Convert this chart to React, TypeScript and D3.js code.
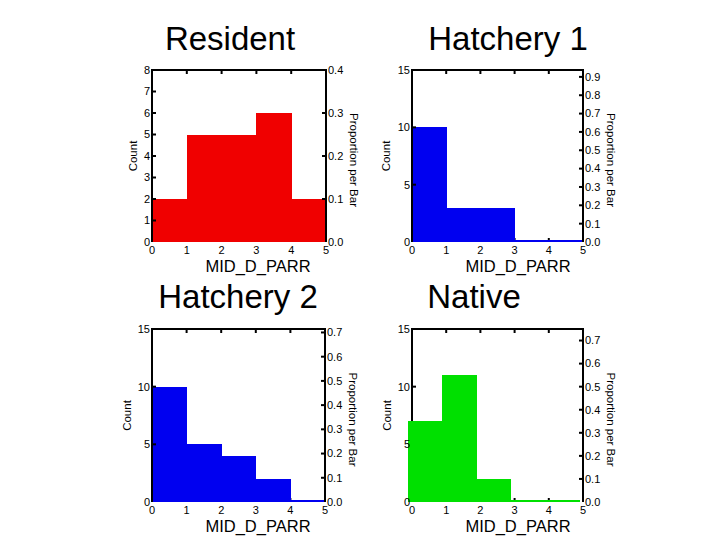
import React from 'react';
import * as d3 from 'd3';

// bin edges of MID_D_PARR
const binEdges = [0, 1, 2, 3, 4, 5];
const xTicks = [0, 1, 2, 3, 4, 5];

const residentCounts = [2, 5, 5, 6, 2];
const hatchery1Counts = [10, 3, 3, 0, 0];
const hatchery2Counts = [10, 5, 4, 2, 0];
const nativeCounts = [7, 11, 2, 0, 0];

const residentCountTicks = [0, 1, 2, 3, 4, 5, 6, 7, 8];
const hatcheryCountTicks = [0, 5, 10, 15];

const residentPropTicks = ['0.0', '0.1', '0.2', '0.3', '0.4'];
const hatchery1PropTicks = ['0.0', '0.1', '0.2', '0.3', '0.4', '0.5', '0.6', '0.7', '0.8', '0.9'];
const hatchery2PropTicks = ['0.0', '0.1', '0.2', '0.3', '0.4', '0.5', '0.6', '0.7'];
const nativePropTicks = ['0.0', '0.1', '0.2', '0.3', '0.4', '0.5', '0.6', '0.7'];

const FONT = '"Liberation Sans", Arial, sans-serif';

type PanelProps = {
  title: string;
  titleX: number;
  titleY: number;
  counts: number[];
  countTicks: number[];
  propTicks: string[];
  color: string;
  left: number;
  right: number;
  top: number;
  bottom: number;
  countGap: number;
  shift?: number;
};

function Panel(p: PanelProps) {
  const total = d3.sum(p.counts);
  const maxCount = d3.max(p.countTicks) as number;
  const x = d3.scaleLinear().domain([0, 5]).range([p.left, p.right]);
  const y = d3.scaleLinear().domain([0, maxCount]).range([p.bottom, p.top]);
  const shift = p.shift || 0;
  const tick = 4;
  const midY = (p.top + p.bottom) / 2;

  const bars = (
    <g shapeRendering="crispEdges">
      {p.counts.map((c, i) => {
        const h = Math.max(p.bottom - y(c), 2);
        return (
          <rect key={i} x={x(binEdges[i]) + shift} y={p.bottom - h}
            width={x(binEdges[i + 1]) - x(binEdges[i]) + 0.5} height={h} fill={p.color} />
        );
      })}
    </g>
  );

  const frame = (
    <g stroke="#000" strokeWidth={2} fill="none">
      <path d={`M${p.left},${p.bottom}V${p.top}H${p.right}V${p.bottom}`} />
      {xTicks.slice(1, -1).map(t => (
        <line key={'t' + t} x1={x(t)} x2={x(t)} y1={p.top} y2={p.top + tick} />
      ))}
      {p.countTicks.slice(1, -1).map(t => (
        <line key={'l' + t} x1={p.left} x2={p.left + tick} y1={y(t)} y2={y(t)} />
      ))}
      {p.propTicks.slice(1).map(t => {
        const v = +t * total;
        if (v >= maxCount) return null;
        return <line key={'r' + t} x1={p.right} x2={p.right - tick} y1={y(v)} y2={y(v)} />;
      })}
    </g>
  );

  return (
    <g fontFamily={FONT}>
      <text x={p.titleX} y={p.titleY} fontSize={33} textAnchor="middle" fill="#000">{p.title}</text>
      <g stroke="#000" strokeWidth={2}>
        {xTicks.slice(1, -1).map(t => (
          <line key={'b' + t} x1={x(t)} x2={x(t)} y1={p.bottom} y2={p.bottom - tick} />
        ))}
      </g>
      {shift ? frame : null}
      {bars}
      {shift ? null : frame}
      <g fontSize={11} fill="#000">
        {xTicks.map(t => (
          <text key={'bx' + t} x={x(t)} y={p.bottom + 11.5} textAnchor="middle">{t}</text>
        ))}
        {p.countTicks.map(t => (
          <text key={'ly' + t} x={p.left - 2} y={y(t)} dy="0.35em" textAnchor="end">{t}</text>
        ))}
        {p.propTicks.map(t => {
          const v = +t * total;
          if (v > maxCount) return null;
          return <text key={'ry' + t} x={p.right + 2} y={y(v)} dy="0.35em">{t}</text>;
        })}
        <text transform={`translate(${p.left - p.countGap},${midY}) rotate(-90)`} fontSize={11.5}
          textAnchor="middle" dy="0.35em">Count</text>
        <text transform={`translate(${p.right + 28},${midY + 4}) rotate(90)`} fontSize={11.5}
          textAnchor="middle" dy="0.35em">Proportion per Bar</text>
      </g>
      <text x={p.left + 106} y={p.bottom + 30} fontSize={16.5} textAnchor="middle" fill="#000">MID_D_PARR</text>
    </g>
  );
}

export default function App() {
  return (
    <svg width={720} height={540} style={{ position: 'absolute', left: 0, top: 0, background: '#fff' }}>
      <rect width={720} height={540} fill="#fff" />
      <Panel title="Resident" titleX={230} titleY={50} counts={residentCounts}
        countTicks={residentCountTicks} propTicks={residentPropTicks} color="#f00000"
        left={152} right={326} top={70} bottom={242} countGap={19} />
      <Panel title="Hatchery 1" titleX={508} titleY={50} counts={hatchery1Counts}
        countTicks={hatcheryCountTicks} propTicks={hatchery1PropTicks} color="#0000f0"
        left={412} right={583} top={70} bottom={242} countGap={26} />
      <Panel title="Hatchery 2" titleX={238} titleY={308} counts={hatchery2Counts}
        countTicks={hatcheryCountTicks} propTicks={hatchery2PropTicks} color="#0000f0"
        left={152} right={325} top={329} bottom={502} countGap={25} />
      <Panel title="Native" titleX={474} titleY={308} counts={nativeCounts}
        countTicks={hatcheryCountTicks} propTicks={nativePropTicks} color="#00e000"
        left={412} right={583} top={329} bottom={502} countGap={25} shift={-4} />
    </svg>
  );
}
